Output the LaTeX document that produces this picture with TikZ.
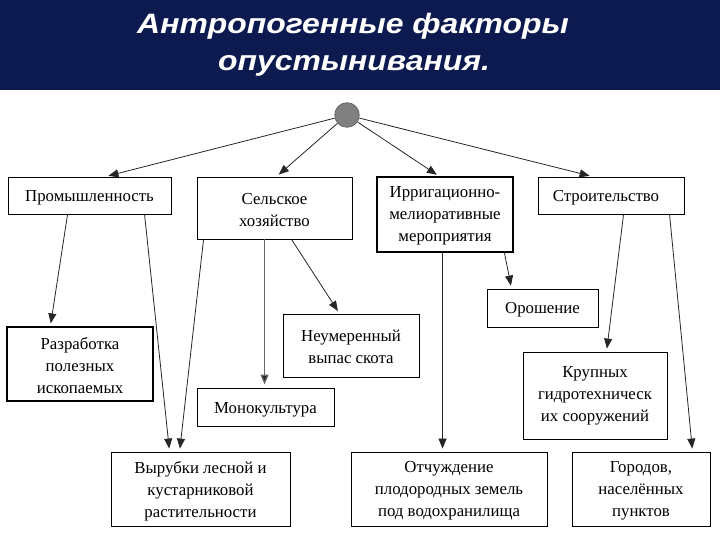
\documentclass[tikz,border=0pt]{standalone}
\usepackage{fontspec}
\setmainfont{Liberation Serif}
\newfontfamily\titlefont{Liberation Sans}
\usetikzlibrary{arrows.meta,calc}
\definecolor{banner}{RGB}{12,26,80}
\definecolor{circfill}{RGB}{128,128,128}
\begin{document}
\begin{tikzpicture}[x=1pt,y=-1pt,
  box/.style={draw=black,line width=0.9pt,inner sep=0pt},
  lbl/.style={inner sep=0pt,align=center,font=\fontsize{16.8}{22}\selectfont},
  conn/.style={draw=black!85,line width=0.8pt,shorten >=3pt,-{Triangle[length=10pt,width=8pt]}},
  greyconn/.style={draw=black!60,line width=1.3pt,shorten >=3pt,-{Triangle[length=10pt,width=8pt,fill=black!85]}},
  ttl/.style={text=white,font=\titlefont\bfseries\itshape\fontsize{28}{35}\selectfont,anchor=base,inner sep=0pt}]
\useasboundingbox (0,0) rectangle (720,540);
\fill[white] (0,0) rectangle (720,540);
\fill[banner] (0,0) rectangle (720,90);
\node[ttl] (t1) at (353,34) {\scalebox{1.14}[1]{Антропогенные факторы}};
\node[ttl] (t2) at (354,71) {\scalebox{1.14}[1]{опустынивания.}};
\node[circle,draw=black!60,fill=circfill,line width=0.8pt,minimum size=24.5pt,inner sep=0pt] (circ) at (347,115) {};
% boxes
\node[box,minimum width=163pt,minimum height=37pt] (prom) at (89.5,195.5) {};
\node[box,minimum width=155pt,minimum height=62pt] (selsk) at (274.5,208) {};
\node[box,minimum width=136pt,minimum height=75pt,line width=1.2pt] (irr) at (445,214.5) {};
\node[box,minimum width=146pt,minimum height=37pt] (stroy) at (611,195.5) {};
\node[box,minimum width=146pt,minimum height=74pt,line width=1.3pt] (razr) at (80,364) {};
\node[box,minimum width=137pt,minimum height=38pt] (mono) at (265.5,407) {};
\node[box,minimum width=136pt,minimum height=63pt] (neum) at (351,345.5) {};
\node[box,minimum width=179pt,minimum height=74pt] (vyr) at (200.5,489) {};
\node[box,minimum width=111pt,minimum height=38pt] (orosh) at (542.5,308) {};
\node[box,minimum width=144pt,minimum height=87pt] (krup) at (595,395.5) {};
\node[box,minimum width=196pt,minimum height=74pt] (otch) at (449,489) {};
\node[box,minimum width=138pt,minimum height=74pt] (gor) at (641,489) {};
% texts
\node[lbl] (promT) at ($(prom.center)+(0,2)$) {Промышленность};
\node[lbl] (selskT) at ($(selsk.center)+(0,2)$) {Сельское\\хозяйство};
\node[lbl] (irrT) at ($(irr.center)+(0,1.5)$) {Ирригационно-\\мелиоративные\\мероприятия};
\node[lbl] (stroyT) at ($(stroy.center)+(-5,2)$) {Строительство};
\node[lbl] (razrT) at ($(razr.center)+(0,1.5)$) {Разработка\\полезных\\ископаемых};
\node[lbl] (monoT) at ($(mono.center)+(0,2.5)$) {Монокультура};
\node[lbl] (neumT) at ($(neum.center)+(0,1)$) {Неумеренный\\выпас скота};
\node[lbl] (vyrT) at ($(vyr.center)+(0,2)$) {Вырубки лесной и\\кустарниковой\\растительности};
\node[lbl] (oroshT) at ($(orosh.center)+(0,2)$) {Орошение};
\node[lbl] (krupT) at ($(krup.center)+(0,0)$) {Крупных\\гидротехническ\\их сооружений};
\node[lbl] (otchT) at ($(otch.center)+(0,2)$) {Отчуждение\\плодородных земель\\под водохранилища};
\node[lbl] (gorT) at ($(gor.center)+(0,2)$) {Городов,\\населённых\\пунктов};
% connectors
\draw[conn] (circ) -- ($(prom.north west)+(98,0)$);
\draw[conn] (circ) -- ($(selsk.north west)+(80,0)$);
\draw[conn] (circ) -- ($(irr.north west)+(63,0)$);
\draw[conn] (circ) -- ($(stroy.north west)+(55,0)$);
\draw[conn] ($(prom.south west)+(60,0)$) -- ($(razr.north west)+(44,0)$);
\draw[conn] ($(prom.south west)+(137,0)$) -- ($(vyr.north west)+(59,0)$);
\draw[conn] ($(selsk.south west)+(7,0)$) -- ($(vyr.north west)+(69,0)$);
\draw[greyconn] ($(selsk.south west)+(68,0)$) -- ($(mono.north west)+(68,0)$);
\draw[conn] ($(selsk.south west)+(95,0)$) -- ($(neum.north west)+(57,0)$);
\draw[conn] ($(irr.south west)+(66,0)$) -- ($(otch.north west)+(92,0)$);
\draw[conn] ($(irr.south west)+(128,0)$) -- ($(orosh.north west)+(25,0)$);
\draw[conn] ($(stroy.south west)+(86,0)$) -- ($(krup.north west)+(84,0)$);
\draw[conn] ($(stroy.south west)+(132,0)$) -- ($(gor.north west)+(121,0)$);
\end{tikzpicture}
\end{document}
